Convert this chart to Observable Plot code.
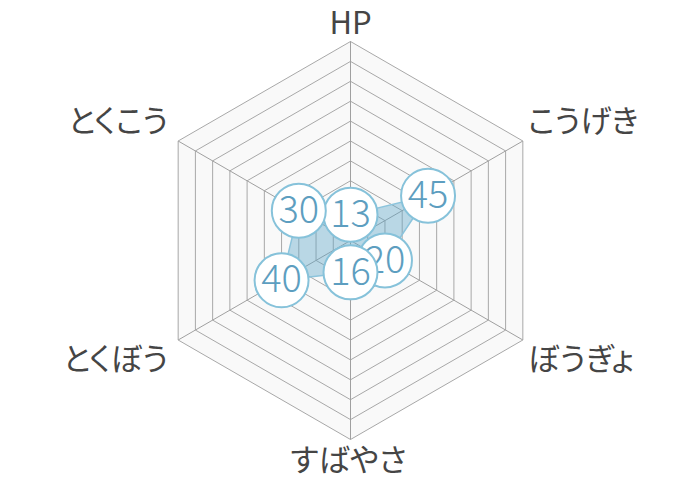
<!DOCTYPE html>
<html>
<head>
<meta charset="utf-8">
<script src="https://cdn.jsdelivr.net/npm/d3@7"></script>
<script src="https://cdn.jsdelivr.net/npm/@observablehq/plot@0.6"></script>
<style>
  html, body { margin: 0; padding: 0; background: #fff; }
  #chart svg { display: block; }
  #chart svg .axis-label, #chart svg .axis-label text { font-feature-settings: "palt" 1; }
</style>
</head>
<body>
<div id="chart"></div>
<script>
// ---- data ----
const axes = ["HP", "こうげき", "ぼうぎょ", "すばやさ", "とくぼう", "とくこう"];
const values = [13, 45, 20, 16, 40, 30];
const ringTicks = [10, 20, 30, 40, 50, 60, 70, 80, 90, 100];
const maxValue = 100;

// ---- helpers (angles: HP at top, clockwise) ----
const ang = i => (i * 2 * Math.PI) / axes.length;
const px = (i, v) => (v / maxValue) * Math.sin(ang(i));
const py = (i, v) => (v / maxValue) * Math.cos(ang(i));

const R = 199, cx = 350, cy = 240;

// ring vertices (closed)
const ringPts = ringTicks.flatMap(t =>
  d3.range(axes.length + 1).map(k => ({ t, x: px(k % axes.length, t), y: py(k % axes.length, t) }))
);
const outerPts = ringPts.filter(d => d.t === maxValue);
const spokes = axes.map((a, i) => ({ x1: 0, y1: 0, x2: px(i, maxValue), y2: py(i, maxValue) }));
const dataPts = values.map((v, i) => ({ axis: axes[i], v, x: px(i, v), y: py(i, v) }));
const labelPts = axes.map((a, i) => ({ a, i, x: px(i, maxValue), y: py(i, maxValue) }));

const labelFont = "'Noto Sans CJK JP', 'Noto Sans', sans-serif";
const labelColor = "#454545";
const axisLabel = (i, dx, dy, anchor) =>
  Plot.text(labelPts.filter(d => d.i === i), { x: "x", y: "y", text: "a", dx, dy, textAnchor: anchor,
    fontSize: 31, fontFamily: labelFont, fill: labelColor, className: "axis-label" });

const labelMarks = values.flatMap((v, i) => [
  Plot.dot([dataPts[i]], { x: "x", y: "y", r: 27, fill: "#ffffff", stroke: "#86c2da", strokeWidth: 2 }),
  Plot.text([dataPts[i]], { x: "x", y: "y", text: d => String(d.v), fill: "#5d9ec0",
    fontSize: 38, fontWeight: 300, fontFamily: labelFont })
]);

const chart = Plot.plot({
  width: 700,
  height: 480,
  margin: 0,
  x: { domain: [-1, 1], range: [cx - R, cx + R], axis: null },
  y: { domain: [-1, 1], range: [cy + R, cy - R], axis: null },
  marks: [
    Plot.line(outerPts, { x: "x", y: "y", fill: "#f9f9f9", stroke: "none" }),
    Plot.line(ringPts, { x: "x", y: "y", z: "t", stroke: "#a8a8a8", strokeWidth: 1 }),
    Plot.link(spokes, { x1: "x1", y1: "y1", x2: "x2", y2: "y2", stroke: "#a0a0a0", strokeWidth: 1 }),
    Plot.line(dataPts, { x: "x", y: "y", curve: "linear-closed", fill: "#5aa4c8", fillOpacity: 0.4,
      stroke: "#8cc4dc", strokeWidth: 1.5 }),
    ...labelMarks,
    // axis labels
    axisLabel(0, 0, -17, "middle"),
    axisLabel(1, 5, -19, "start"),
    axisLabel(2, 5, 20, "start"),
    axisLabel(3, -2, 22, "middle"),
    axisLabel(4, -10, 20, "end"),
    axisLabel(5, -10, -19, "end")
  ]
});
document.getElementById("chart").appendChild(chart);
</script>
</body>
</html>
